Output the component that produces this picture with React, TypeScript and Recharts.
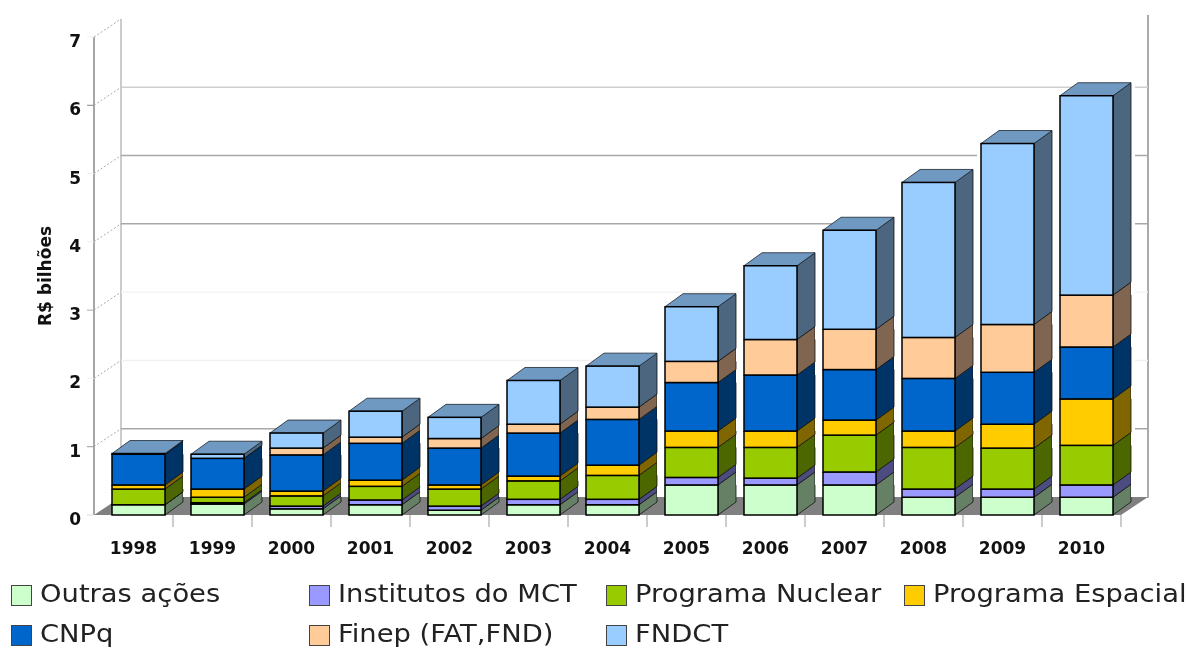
import React from "react";
import { BarChart, Bar, XAxis, YAxis, CartesianGrid, Legend } from "recharts";

const YEARS = ["1998", "1999", "2000", "2001", "2002", "2003", "2004", "2005", "2006", "2007", "2008", "2009", "2010"];
const Y_TICKS = [0, 1, 2, 3, 4, 5, 6, 7];

const OUTRAS = [0.15, 0.16, 0.09, 0.15, 0.07, 0.15, 0.15, 0.44, 0.44, 0.44, 0.26, 0.26, 0.26];
const INSTITUTOS = [0, 0.02, 0.04, 0.07, 0.06, 0.08, 0.08, 0.11, 0.1, 0.19, 0.12, 0.12, 0.18];
const NUCLEAR = [0.23, 0.08, 0.15, 0.2, 0.25, 0.27, 0.35, 0.44, 0.45, 0.54, 0.61, 0.6, 0.58];
const ESPACIAL = [0.06, 0.12, 0.07, 0.09, 0.06, 0.07, 0.15, 0.24, 0.24, 0.22, 0.24, 0.35, 0.68];
const CNPQ = [0.45, 0.45, 0.53, 0.54, 0.54, 0.63, 0.67, 0.71, 0.82, 0.74, 0.77, 0.76, 0.76];
const FINEP = [0, 0, 0.1, 0.09, 0.14, 0.13, 0.18, 0.31, 0.52, 0.59, 0.6, 0.7, 0.76];
const FNDCT = [0.01, 0.06, 0.22, 0.38, 0.31, 0.64, 0.6, 0.8, 1.08, 1.45, 2.27, 2.65, 2.92];

const SERIES = [
  { key: "outras", name: "Outras ações", values: OUTRAS, color: "#ccffcc", side: "#668066" },
  { key: "institutos", name: "Institutos do MCT", values: INSTITUTOS, color: "#9999ff", side: "#4c4c80" },
  { key: "nuclear", name: "Programa Nuclear", values: NUCLEAR, color: "#99cc00", side: "#4c6600" },
  { key: "espacial", name: "Programa Espacial", values: ESPACIAL, color: "#ffcc00", side: "#806600" },
  { key: "cnpq", name: "CNPq", values: CNPQ, color: "#0066cc", side: "#003366" },
  { key: "finep", name: "Finep (FAT,FND)", values: FINEP, color: "#ffcc99", side: "#806650" },
  { key: "fndct", name: "FNDCT", values: FNDCT, color: "#99ccff", side: "#4c6680" },
];

const data = YEARS.map((year, i) => {
  const row: any = { year };
  SERIES.forEach((s) => (row[s.key] = s.values[i]));
  return row;
});

// the fake 3d: how far the back wall sits from the front plane
const WALL_DX = 27;
const WALL_DY = 18;
const BAR_DX = 18;
const BAR_DY = 13;
const BAR_SHIFT = 5;
const FONT = "'DejaVu Sans', sans-serif";

// some gridlines nearly vanished in the original picture
const GRID_COLORS = ["#999", "#a8a8a8", "#f0f0f0", "#f4f4f4", "#a8a8a8", "#a8a8a8", "#cfcfcf", "#cfcfcf"];
const TICK_COLORS = ["#ddd", "#999", "#eee", "#aaa", "#eee", "#eee", "#888", "#eee"];

function GridLine(props: any) {
  const { x1, x2, y1, offset } = props;
  const top = offset?.top ?? 37;
  const height = offset?.height ?? 478;
  const v = Math.round(((top + height - y1) / height) * 7);
  const bx1 = x1 + WALL_DX;
  const bx2 = x2 + WALL_DX;
  const by = y1 - WALL_DY;
  return (
    <g>
      {v === 0 && (
        <g>
          <polygon
            points={`${x1},${y1} ${bx1},${by} ${bx2},${by} ${x2},${y1}`}
            fill="#808080"
          />
          <line x1={bx1} y1={by} x2={bx1} y2={by - height} stroke="#cccccc" strokeWidth={2} />
          <line x1={bx2} y1={by + 1} x2={bx2} y2={by - height - 4} stroke="#aaaaaa" strokeWidth={2} />
          <line x1={x1} y1={y1} x2={x1} y2={y1 - height} stroke="#888888" strokeWidth={1.5} />
        </g>
      )}
      {v > 0 && v < 7 && (
        <line x1={bx1} y1={by} x2={bx2} y2={by} stroke={GRID_COLORS[v]} strokeWidth={1.5} />
      )}
      {v > 0 && (
        <line x1={x1} y1={y1} x2={bx1} y2={by} stroke="#aaaaaa" strokeDasharray="2 2" />
      )}
    </g>
  );
}

function box3d(props: any, color: string, side: string, isTop: boolean) {
  const { width, height, background } = props;
  const x = props.x + BAR_SHIFT;
  const y = props.y;
  const floor = background ? background.y + background.height - WALL_DY : 497;
  const haloBottom = Math.min(y + height, floor);
  const right = x + width;
  return (
    <g>
      {haloBottom > y && (
        <g fill="#ffffff">
          <rect x={x - 4} y={y} width={4} height={haloBottom - y} />
          <rect x={right + BAR_DX} y={y - BAR_DY} width={4} height={Math.max(haloBottom - y + BAR_DY, 0)} />
        </g>
      )}
      <polygon
        points={`${right},${y} ${right + BAR_DX},${y - BAR_DY} ${right + BAR_DX},${y + height - BAR_DY} ${right},${y + height}`}
        fill={side}
        stroke="#111"
        strokeWidth={0.8}
      />
      {isTop && (
        <polygon
          points={`${x},${y} ${x + BAR_DX},${y - BAR_DY} ${right + BAR_DX},${y - BAR_DY} ${right},${y}`}
          fill="#7099c2"
          stroke="#1a2530"
          strokeWidth={0.8}
        />
      )}
      <rect x={x} y={y} width={width} height={height} fill={color} stroke="#000" strokeWidth={1.5} />
    </g>
  );
}

function YTick(props: any) {
  const { x, y, payload } = props;
  return (
    <g>
      <line x1={x + 1} y1={y} x2={x + 8} y2={y} stroke={TICK_COLORS[payload.value]} />
      <text x={81} y={y + 10} textAnchor="end" fontFamily={FONT} fontWeight="bold" fontSize={17} fill="#111">
        {payload.value}
      </text>
    </g>
  );
}

function XTick(props: any) {
  const { x, y, payload } = props;
  return (
    <g>
      <line x1={x + 39.5} y1={y - 8} x2={x + 39.5} y2={y + 4} stroke="#bbbbbb" strokeWidth={1.5} />
      <text x={x} y={y + 31} textAnchor="middle" fontFamily={FONT} fontWeight="bold" fontSize={17} fill="#111">
        {payload.value}
      </text>
    </g>
  );
}

function LegendBox() {
  return (
    <div style={{ width: 1200, display: "flex", flexWrap: "wrap", fontFamily: FONT, fontSize: 24, lineHeight: 1, color: "#222" }}>
      {SERIES.map((s) => (
        <div key={s.key} style={{ width: 297.5, height: 40, display: "flex", alignItems: "center", whiteSpace: "nowrap", boxSizing: "border-box", paddingLeft: 11 }}>
          <span style={{ width: 19, height: 19, background: s.color, border: "1px solid #444", marginRight: 8, flex: "none" }} />
          {/* the original text is wider than it is tall */}
          <span style={{ display: "inline-block", transform: "translateY(-1px) scaleX(1.14)", transformOrigin: "left center" }}>{s.name}</span>
        </div>
      ))}
    </div>
  );
}

export default function App() {
  return (
    <div style={{ position: "absolute", left: 0, top: 0, width: 1187, height: 648, overflow: "hidden", background: "#fff", filter: "blur(0.4px)" }}>
      <BarChart
        width={1187}
        height={648}
        data={data}
        margin={{ top: 37, right: 66, bottom: 93, left: 0 }}
        barSize={53}
      >
        <CartesianGrid vertical={false} horizontal={(p: any) => <GridLine key={p.key} {...p} />} />
        <XAxis dataKey="year" axisLine={false} tickLine={false} interval={0} tick={<XTick />} height={40} />
        <YAxis
          width={94}
          domain={[0, 7]}
          ticks={Y_TICKS}
          axisLine={false}
          tickLine={false}
          tick={<YTick />}
          label={{
            value: "R$ bilhões",
            angle: -90,
            position: "insideLeft",
            offset: 45,
            style: { fontFamily: FONT, fontWeight: "bold", fontSize: 17, fill: "#111", textAnchor: "middle" },
          }}
        />
        <Legend
          layout="horizontal"
          verticalAlign="middle"
          wrapperStyle={{ left: 0, top: 575, width: 1200 }}
          content={() => <LegendBox />}
        />
        {SERIES.map((s, i) => (
          <Bar
            key={s.key}
            dataKey={s.key}
            name={s.name}
            stackId="a"
            fill={s.color}
            isAnimationActive={false}
            shape={(p: any) => box3d(p, s.color, s.side, i === SERIES.length - 1)}
          />
        ))}
      </BarChart>
    </div>
  );
}
